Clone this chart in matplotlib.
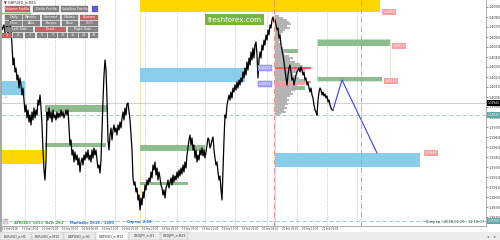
import matplotlib
matplotlib.use("Agg")
import matplotlib.pyplot as plt
from matplotlib.patches import Rectangle
from matplotlib.transforms import blended_transform_factory
import numpy as np

# GBPUSD_e M15 closes, one per bar (bar number = chart column)
first_bar = 2
close = [
    1.4067, 1.4070, 1.4072, 1.4064, 1.4069, 1.4075, 1.4062, 1.4070, 1.4077, 1.4067,
    1.4052, 1.4032, 1.4039, 1.4025, 1.4029, 1.4017, 1.4022, 1.4009, 1.4019, 1.4012,
    1.4002, 1.4009, 1.3997, 1.3985, 1.3992, 1.3979, 1.3987, 1.3975, 1.3982, 1.3972,
    1.3985, 1.3977, 1.3989, 1.3979, 1.3987, 1.3982, 1.3997, 1.3992, 1.4002, 1.3989,
    1.3972, 1.3947, 1.3927, 1.3917,
    1.3937, 1.3985, 1.3977, 1.3989, 1.3979, 1.3985, 1.3975, 1.3987, 1.3979, 1.3982,
    1.3977, 1.3985, 1.3979, 1.3984, 1.3980, 1.3987, 1.3981, 1.3985, 1.3979, 1.3983,
    1.3987, 1.3982, 1.3987, 1.3969, 1.3952, 1.3957, 1.3942, 1.3947, 1.3935, 1.3945,
    1.3937, 1.3942, 1.3932, 1.3939, 1.3925, 1.3935, 1.3939, 1.3932, 1.3942, 1.3937,
    1.3945, 1.3939, 1.3947, 1.3937, 1.3942, 1.3935, 1.3947, 1.3939, 1.3949, 1.3942,
    1.3947, 1.3937, 1.3929, 1.3932, 1.3924, 1.3937, 1.3967, 1.3997, 1.4022, 1.4037,
    1.4027, 1.3997, 1.3957, 1.3947, 1.3962,
    1.3969, 1.3957, 1.3967, 1.3972, 1.3965, 1.3969, 1.3962, 1.3972, 1.3967, 1.3975,
    1.3969, 1.3979, 1.3985, 1.3977, 1.3989, 1.3982, 1.3993, 1.3994, 1.3985, 1.3977,
    1.3962, 1.3947, 1.3919, 1.3912, 1.3915, 1.3905, 1.3909, 1.3897, 1.3902, 1.3887,
    1.3899, 1.3892, 1.3905, 1.3899, 1.3912, 1.3907, 1.3917, 1.3912, 1.3919, 1.3915,
    1.3925, 1.3919, 1.3932, 1.3927, 1.3935, 1.3922, 1.3929, 1.3917, 1.3925, 1.3919,
    1.3912, 1.3909, 1.3902, 1.3907, 1.3899, 1.3909, 1.3912, 1.3917, 1.3909, 1.3915,
    1.3919, 1.3912, 1.3922, 1.3915, 1.3921, 1.3917, 1.3925, 1.3919, 1.3927, 1.3921,
    1.3929, 1.3923, 1.3932, 1.3925, 1.3935, 1.3929, 1.3942, 1.3949, 1.3957, 1.3962,
    1.3952, 1.3959, 1.3947, 1.3952, 1.3939, 1.3947, 1.3935, 1.3942, 1.3937, 1.3947,
    1.3942, 1.3949, 1.3941, 1.3947, 1.3939, 1.3945, 1.3952, 1.3959, 1.3957, 1.3949,
    1.3952, 1.3957, 1.3960, 1.3947, 1.3939, 1.3932, 1.3935, 1.3925, 1.3917, 1.3921,
    1.3907, 1.3897, 1.3927, 1.3957, 1.3982, 1.3979, 1.3992, 1.3997, 1.4002, 1.3997,
    1.4005, 1.3999, 1.4009, 1.4005, 1.4012, 1.4007, 1.4015, 1.4009, 1.4017, 1.4012,
    1.4019, 1.4015, 1.4025, 1.4019, 1.4029, 1.4022, 1.4035, 1.4027, 1.4039, 1.4032,
    1.4045, 1.4037, 1.4049, 1.4039, 1.4052, 1.4055, 1.4042, 1.4019, 1.4037, 1.4045,
    1.4039, 1.4052, 1.4047, 1.4057, 1.4052, 1.4062, 1.4057, 1.4067, 1.4062, 1.4072,
    1.4069, 1.4077, 1.4080, 1.4075, 1.4077, 1.4072, 1.4067, 1.4069, 1.4059, 1.4062,
    1.4052, 1.4047, 1.4042, 1.4035, 1.4027, 1.4019, 1.4012, 1.4022, 1.4029, 1.4032,
    1.4025, 1.4017, 1.4019, 1.4012, 1.4017, 1.4022, 1.4025, 1.4027, 1.4029, 1.4025,
    1.4030, 1.4027, 1.4022, 1.4025, 1.4017, 1.4019, 1.4012, 1.4015, 1.4009, 1.4005,
    1.4009, 1.4002, 1.3999, 1.3992, 1.3987, 1.3985, 1.3982, 1.3997, 1.4005, 1.4009,
    1.4007, 1.4002, 1.4005, 1.4001, 1.4003, 1.3999, 1.4001, 1.3995, 1.3997, 1.3992,
    1.3989, 1.3987, 1.3987,
]
bars = np.arange(first_bar, first_bar + len(close))

# forecast zigzag
proj_bars = [333, 342, 377]
proj_price = [1.3987, 1.4017, 1.3944]

# supply / demand zones
zone_start = [140, 2, 2, 140, 275, 45, 45, 140, 140, 275, 317, 317, 275]
zone_end = [380, 45, 25, 245, 420, 108, 106, 188, 205, 298, 390, 382, 305]
zone_low = [1.4085, 1.3933, 1.4002, 1.4015, 1.3930, 1.3985, 1.3950, 1.3912,
            1.3946, 1.4044, 1.4051, 1.4016, 1.4007]
zone_high = [1.4100, 1.3947, 1.4016, 1.4029, 1.3944, 1.3992, 1.3954, 1.3915,
             1.3952, 1.4048, 1.4058, 1.4020, 1.4011]
zone_kind = ["y", "y", "b", "b", "b", "g", "g", "g", "g", "g", "g", "g", "g"]

# zone price tags
tag_bar = [383, 393, 385, 425]
tag_price = [1.4085, 1.4051, 1.4016, 1.3944]

# volume profile (from bar 275, price levels 2 pips apart, top down)
profile_start = 275
profile_top = 1.4081
profile_width = [4, 8, 12, 14, 16, 12, 15, 10, 8, 6, 5, 6, 5, 4, 6, 5, 8, 10, 12, 9,
                 14, 18, 15, 20, 25, 28, 36, 30, 22, 18, 20, 24, 30, 36, 30, 22, 18, 20, 16, 18,
                 15, 12, 14, 12, 13, 10, 12, 9, 11, 6]
poc_price = 1.4029
va_price = [1.4015, 1.4013]

bid = 1.3994
level_line = 1.3982
low_line = 1.3876

xtick_bars = [2, 22, 42, 62, 82, 102, 122, 142, 162, 182, 202, 222, 242, 262, 282, 302, 322]
xtick_labels = ["15 Feb 2018", "15 Feb 15:00", "15 Feb 20:00", "16 Feb 01:00", "16 Feb 06:00",
                "16 Feb 11:00", "16 Feb 16:00", "16 Feb 21:00", "19 Feb 02:00", "19 Feb 07:00",
                "19 Feb 12:00", "19 Feb 17:00", "19 Feb 22:00", "20 Feb 03:00", "20 Feb 08:00",
                "20 Feb 13:00", "20 Feb 18:00"]
yticks = [1.4090, 1.4080, 1.4070, 1.4060, 1.4050, 1.4040, 1.4030, 1.4020, 1.4010, 1.4000,
          1.3990, 1.3980, 1.3970, 1.3960, 1.3950, 1.3940, 1.3930, 1.3920, 1.3910, 1.3900,
          1.3890, 1.3880]

colors = {"y": "#ffd700", "b": "#87ceeb", "g": "#8fbc8f"}

fig = plt.figure(figsize=(5, 2.4), dpi=100)
ax = fig.add_axes([2 / 500, 14 / 240, 484 / 500, 226 / 240])
ax.set_xlim(2, 486)
ax.set_ylim(1.3871, 1.4097)

# grid / session lines
for gx in [25, 55, 85, 115, 145, 177, 205, 235, 267, 297, 327, 357]:
    ax.axvline(gx, color="#b4b4b4", ls=":", lw=0.6, zorder=0)
ax.axvline(140, color="#f3e6a0", lw=0.6, zorder=0)
ax.axvline(275, color="#b8e0f0", lw=0.6, zorder=0)
ax.axvline(274, color="#f08080", ls="-.", lw=0.6, zorder=4)
ax.axvline(361, color="#f08080", ls="-.", lw=0.6, zorder=4)
ax.axhline(bid, color="#c8c8c8", lw=0.6, zorder=0)
ax.axhline(level_line, color="#8ec6c6", ls=(0, (5, 3)), lw=0.6, zorder=0)
ax.axhline(low_line, color="#8ec6c6", ls=(0, (5, 3)), lw=0.6, zorder=0)

# zones
for x0, x1, lo, hi, k in zip(zone_start, zone_end, zone_low, zone_high, zone_kind):
    ax.add_patch(Rectangle((x0, lo), x1 - x0, hi - lo, fc=colors[k], ec="none", zorder=1))
ax.add_patch(Rectangle((317, 1.4016), 73, 1.4058 - 1.4016, fill=False,
                       ec="#cde8cd", lw=0.6, zorder=1))

# volume profile
levels = profile_top - 0.0002 * np.arange(len(profile_width))
pcol = []
for lv in levels:
    if abs(lv - poc_price) < 1e-5:
        pcol.append("#ff5a5a")
    elif min(abs(lv - v) for v in va_price) < 1e-5:
        pcol.append("#f4a0a0")
    else:
        pcol.append("#b4b4b4")
ax.barh(levels, profile_width, left=profile_start, height=0.00017, color=pcol, zorder=2)

# price and forecast
ax.plot(bars, close, color="black", lw=0.9, zorder=3)
ax.plot(proj_bars, proj_price, color="#3c3cff", lw=0.8, zorder=3)

# tags
for tb, tp in zip(tag_bar, tag_price):
    ax.text(tb, tp, f"{tp:.5f}", fontsize=2.2, color="white", va="center", ha="left", zorder=5,
            bbox=dict(boxstyle="square,pad=0.25", fc="#f3a0a0", ec="none"))
for pp in [1.4029, 1.4013]:
    ax.text(265, pp, f"{pp:.5f}", fontsize=2.2, color="white", va="center", ha="center", zorder=5,
            bbox=dict(boxstyle="square,pad=0.25", fc="#a4a4f2", ec="#7070e0", lw=0.3))

# axes styling
ax.yaxis.tick_right()
ax.set_yticks(yticks)
ax.set_yticklabels([f"{v:.4f}" for v in yticks])
ax.set_xticks(xtick_bars)
ax.set_xticklabels(xtick_labels, ha="left")
ax.tick_params(axis="y", labelsize=2.4, length=1.2, width=0.4, pad=0.8, colors="#333333")
ax.tick_params(axis="x", labelsize=1.8, length=0, pad=1, colors="#333333")
for s in ["top", "left"]:
    ax.spines[s].set_visible(False)
for s in ["right", "bottom"]:
    ax.spines[s].set_color("#909090")
    ax.spines[s].set_linewidth(0.5)

tr = blended_transform_factory(ax.transAxes, ax.transData)
for val, fc in [(bid, "black"), (level_line, "#5fa8a8"), (low_line, "#5fa8a8")]:
    ax.text(1.003, val, f"{val:.5f}", transform=tr, fontsize=2.1, color="white",
            va="center", ha="left", clip_on=False, zorder=6,
            bbox=dict(boxstyle="square,pad=0.2", fc=fc, ec="none"))

# overlay in pixels for the terminal widgets
ov = fig.add_axes([0, 0, 1, 1], zorder=10)
ov.set_xlim(0, 500)
ov.set_ylim(240, 0)
ov.axis("off")
ov.patch.set_alpha(0)


def button(x0, x1, y0, y1, label, fc):
    ov.add_patch(Rectangle((x0, y0), x1 - x0, y1 - y0, fc=fc, ec="#5a5a5a", lw=0.2))
    ov.text((x0 + x1) / 2, (y0 + y1) / 2 + 0.2, label, fontsize=2.4, color="white",
            ha="center", va="center")


red = "#c96464"
grey = "#858585"
ov.text(4, 2.5, "▼ GBPUSD_e,M15", fontsize=2.6, color="#333333", va="center")
button(5, 30, 6, 12, "Volume Profile", red)
button(33, 59, 6, 12, "Delta Profile", grey)
button(61, 88, 6, 12, "VolaStat Profile", grey)
button(92, 98, 6, 12, "-", "#5a5ad8")
ov.plot([2, 30], [13.2, 13.2], color="#6cc06c", lw=1)
for (x0, x1), lab in zip([(5, 22), (23, 40), (42, 60), (62, 78), (80, 98)],
                         ["Daily", "Weekly", "Contract", "Globex", "Custom"]):
    button(x0, x1, 14.5, 19.5, lab, red if lab == "Custom" else grey)
for (x0, x1), lab in zip([(5, 22), (23, 40), (42, 60), (62, 78), (80, 98)],
                         ["Hour", "Asia", "Europe", "Rose", "Chill"]):
    button(x0, x1, 20.5, 25.5, lab, grey)
button(5, 33, 26.5, 31.5, "Left Side", grey)
button(35, 66, 26.5, 31.5, "Chart", red)
button(68, 98, 26.5, 31.5, "Right Side", grey)
for (x0, x1), lab in zip([(2, 12), (13, 23), (25, 35), (37, 47), (48, 57), (58, 67),
                          (68, 78), (79, 88), (90, 98)],
                         ["1", "2", "3", "5", "7", "10", "15", "20", "31"]):
    button(x0, x1, 32.5, 37.5, lab, red if lab == "1" else grey)

# watermark
ov.text(234.5, 19.5, "freshforex.com", fontsize=5.2, color="white", ha="center", va="center",
        bbox=dict(boxstyle="square,pad=0.3", fc="#77b33f", ec="none"))

ov.text(4, 97, "10", fontsize=2.6, color="#f08080", va="center")

# info line at bottom of chart
ov.add_patch(Rectangle((3, 218.5), 5, 5, fc="#dddddd", ec="#999999", lw=0.3))
ov.text(5.5, 221, "?", fontsize=2.4, ha="center", va="center", color="#555555")
ov.text(14, 222.5, "ATR(20): 1613  Bx2: 263", fontsize=2.6, color="#3c9a3c",
        fontweight="bold", va="center")
ov.text(70, 222.5, "Минмакс 2616 / 1400", fontsize=2.6, color="#2f74d0",
        fontweight="bold", va="center")
ov.text(127, 222.5, "Спред: 2.00", fontsize=2.6, color="#2f74d0",
        fontweight="bold", va="center")
ov.text(484, 221.5, "Вперед / 2018.02.20 - 21:19:07", fontsize=2.6, color="#444444",
        ha="right", va="center")

# left border and tab bar
ov.add_patch(Rectangle((0, 0), 1.6, 232, fc="#a8a8a8", ec="none"))
ov.add_patch(Rectangle((0, 232), 500, 8, fc="#ececec", ec="none"))
tabs = ["EURUSD_e,H1", "EURUSD_e,M15", "GBPUSD_e,H1", "GBPUSD_e,M15", "USDJPY_e,H1", "USDJPY_e,M15"]
tab_x = [(0, 31), (32, 63), (64, 95), (96, 128), (129, 160), (161, 188)]
for (x0, x1), lab in zip(tab_x, tabs):
    active = lab == "GBPUSD_e,M15"
    ov.add_patch(Rectangle((x0, 232), x1 - x0, 7.5, fc="white" if active else "#ececec",
                           ec="#b4b4b4", lw=0.3))
    ov.text((x0 + x1) / 2, 236, lab, fontsize=2.3, color="#333333", ha="center", va="center")
ov.text(488, 236, "◂", fontsize=3, color="#777777", ha="center", va="center")
ov.text(495, 236, "▸", fontsize=3, color="#777777", ha="center", va="center")

fig.savefig("out.png", dpi=100)
